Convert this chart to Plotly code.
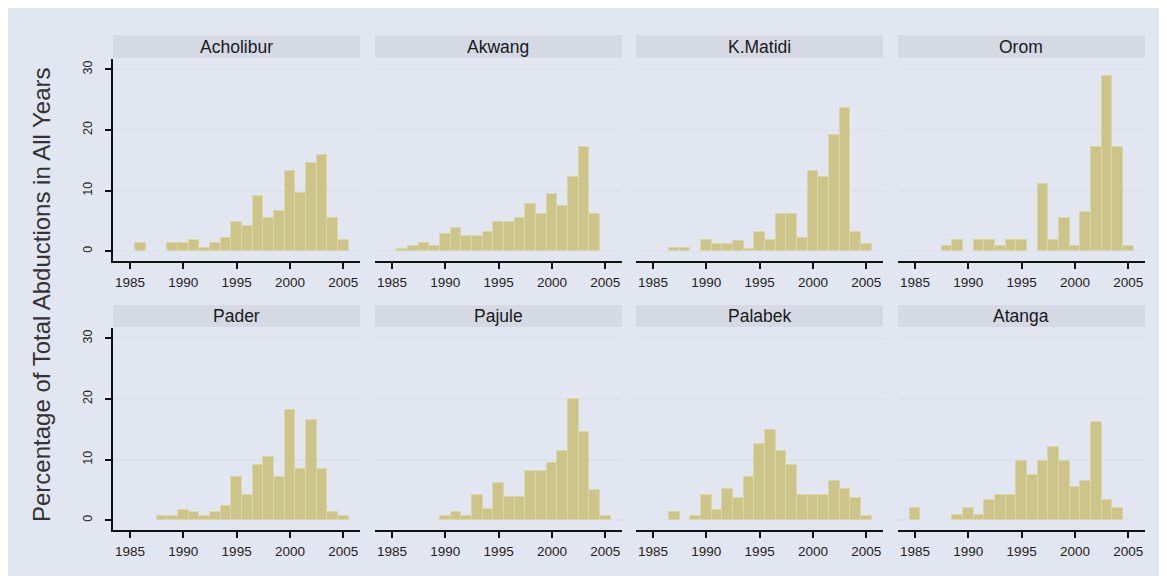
import plotly.graph_objects as go

years = list(range(1985, 2006))
villages = ["Acholibur", "Akwang", "K.Matidi", "Orom", "Pader", "Pajule", "Palabek", "Atanga"]

acholibur = [None, 1.3, None, None, 1.3, 1.3, 1.9, 0.55, 1.3, 2.2, 4.8, 4.2, 9.1, 5.4, 6.7, 13.3, 9.6, 14.5, 15.9, 5.4, 1.9]
akwang = [None, 0.3, 0.9, 1.3, 0.8, 2.9, 3.9, 2.5, 2.5, 3.2, 4.8, 4.8, 5.5, 7.8, 6.1, 9.4, 7.4, 12.3, 17.2, 6.1, None]
kmatidi = [None, None, 0.6, 0.6, None, 1.9, 1.2, 1.2, 1.6, 0.3, 3.2, 1.9, 6.1, 6.1, 2.2, 13.3, 12.3, 19.1, 23.7, 3.2, 1.2]
orom = [None, None, None, 0.9, 1.9, None, 1.9, 1.9, 0.9, 1.9, 1.9, None, 11.0, 1.9, 5.5, 0.9, 6.5, 17.2, 28.9, 17.2, 0.9]
pader = [None, None, None, 0.65, 0.65, 1.6, 1.3, 0.65, 1.3, 2.3, 7.1, 4.2, 9.1, 10.4, 7.1, 18.1, 8.4, 16.5, 8.4, 1.3, 0.65]
pajule = [None, None, None, None, None, 0.65, 1.3, 0.65, 4.2, 1.9, 6.1, 3.8, 3.8, 8.1, 8.1, 9.4, 11.4, 20.0, 14.5, 4.9, 0.65]
palabek = [None, None, 1.4, None, 0.65, 4.2, 1.6, 5.2, 3.6, 7.1, 12.6, 14.9, 11.4, 9.1, 4.2, 4.2, 4.2, 6.5, 5.2, 3.6, 0.65]
atanga = [2.0, None, None, None, 0.9, 2.0, 0.9, 3.3, 4.2, 4.2, 9.7, 7.5, 9.7, 12.1, 9.7, 5.5, 6.5, 16.2, 3.3, 2.0, None]

series = [acholibur, akwang, kmatidi, orom, pader, pajule, palabek, atanga]

x_ticks = [1985, 1990, 1995, 2000, 2005]
y_ticks = [0, 10, 20, 30]
y_title = "Percentage of Total Abductions in All Years"

OFF = 8  # browser default body margin
W, H = 1167 - OFF, 581 - OFF
BG = "#E2E6F0"
HEADER = "#D4D9E3"
GRID = "#DCE3EE"
BAR = "#CCC488"
BAR_LINE = "#DBD6A6"
FONT = "Liberation Sans, Arial, sans-serif"


def px(x):
    return (x - OFF) / W


def py(y):
    return 1 - (y - OFF) / H


col_left = [113, 375, 636, 898]
col_w = 247
rows = [(59, 261, 35, 58), (328, 530, 305, 327)]  # plot top, plot bottom, header top, header bottom

fig = go.Figure()
layout = dict(
    width=W, height=H,
    margin=dict(l=0, r=0, t=0, b=0),
    paper_bgcolor="white", plot_bgcolor="white",
    showlegend=False, bargap=0,
    font=dict(family=FONT, color="#222"),
)
shapes = [dict(type="rect", xref="paper", yref="paper", x0=0, x1=px(1161),
               y0=py(576), y1=1, fillcolor=BG, line=dict(width=0), layer="below")]
annotations = []

for i, (name, vals) in enumerate(zip(villages, series)):
    r, c = divmod(i, 4)
    top, bot, htop, hbot = rows[r]
    x0 = px(col_left[c])
    x1 = px(col_left[c] + col_w)
    y0 = py(bot)
    y1 = py(top)
    k = "" if i == 0 else str(i + 1)
    fig.add_trace(go.Bar(
        x=years, y=vals, width=1.0, xaxis="x" + k, yaxis="y" + k,
        marker=dict(color=BAR, line=dict(color=BAR_LINE, width=1)),
        hoverinfo="x+y",
    ))
    layout["xaxis" + k] = dict(
        domain=[x0, x1], anchor="y" + k, range=[1983.41, 1983.41 + col_w / 10.667],
        tickmode="array", tickvals=x_ticks, ticks="outside", ticklen=6, tickwidth=1.5,
        tickcolor="#111", showline=True, linecolor="#111", linewidth=1.5,
        showgrid=False, zeroline=False, fixedrange=True,
        tickfont=dict(size=13.5, family=FONT, color="#222"), ticklabelstandoff=2,
    )
    ydict = dict(
        domain=[y0, y1], anchor="x" + k, range=[-1.62, 31.7],
        tickmode="array", tickvals=y_ticks, showgrid=True, gridcolor=GRID, gridwidth=2,
        zeroline=False, fixedrange=True,
    )
    if c == 0:
        ydict.update(showline=True, linecolor="#111", linewidth=1.5, ticks="outside",
                     ticklen=6, tickwidth=1.5, tickcolor="#111", showticklabels=True,
                     tickangle=-90, tickfont=dict(size=12.5, family=FONT, color="#222"),
                     ticklabelstandoff=8)
    else:
        ydict.update(showline=False, ticks="", showticklabels=False)
    layout["yaxis" + k] = ydict
    shapes.append(dict(type="rect", xref="paper", yref="paper",
                       x0=x0, x1=x1, y0=py(hbot), y1=py(htop),
                       fillcolor=HEADER, line=dict(width=0), layer="below"))
    annotations.append(dict(text=name, xref="paper", yref="paper",
                            x=(x0 + x1) / 2, y=py((htop + hbot) / 2),
                            xanchor="center", yanchor="middle", showarrow=False,
                            font=dict(size=17.5, family=FONT, color="#1a1a1a")))

annotations.append(dict(text=y_title, xref="paper", yref="paper", x=px(41), y=py(295),
                        xanchor="center", yanchor="middle", textangle=-90, showarrow=False,
                        font=dict(size=24, family=FONT, color="#333")))

layout["shapes"] = shapes
layout["annotations"] = annotations
fig.update_layout(**layout)
fig.write_html("out.html")
